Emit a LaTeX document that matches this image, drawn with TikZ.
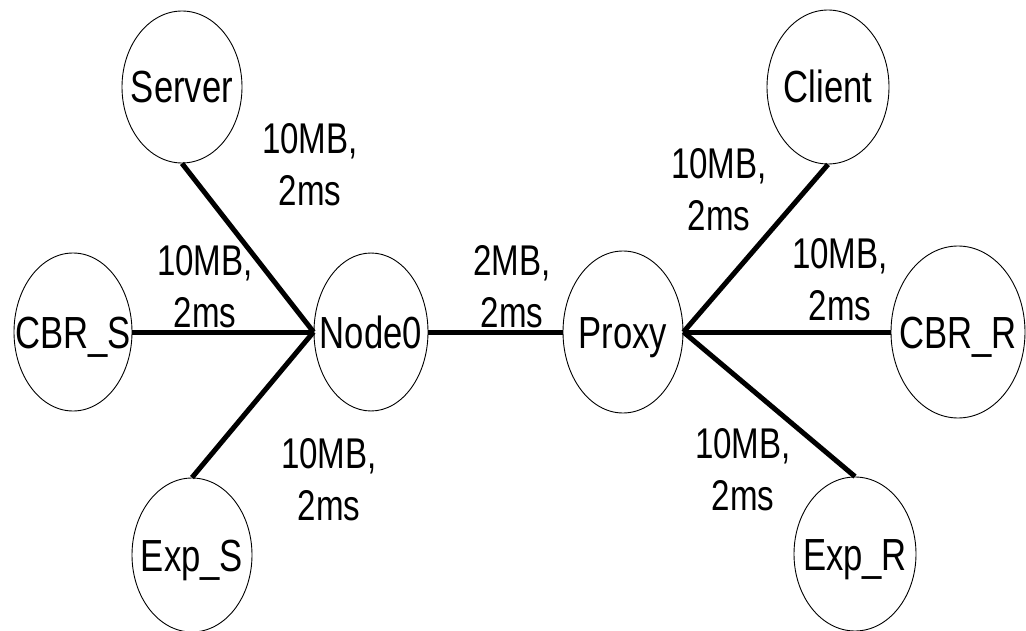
\documentclass[tikz,border=0pt]{standalone}
\usepackage{fontspec}
\setmainfont{Liberation Sans}
\usetikzlibrary{shapes.geometric}
\newcommand{\cond}[1]{\scalebox{0.77}[1]{#1}}
\newcommand{\twoline}[2]{\cond{\begin{tabular}{@{}c@{}}#1\\#2\end{tabular}}}
\begin{document}
\begin{tikzpicture}[x=1pt,y=-1pt,
  host/.style={ellipse, draw, line width=0.9pt, inner sep=0pt,
    text height=32pt, text depth=0pt, font=\fontsize{45}{54}\selectfont},
  link/.style={line width=5pt},
  lbl/.style={inner sep=0pt, font=\fontsize{43}{52}\selectfont}]
\useasboundingbox (0,0) rectangle (1026,631);
\node[host, minimum width=120pt, minimum height=152pt] (server) at (182,87) {\makebox[0pt]{\cond{Server}}};
\node[host, minimum width=122pt, minimum height=154pt] (client) at (828,87) {\makebox[0pt]{\cond{Client}}};
\node[host, minimum width=118pt, minimum height=158pt] (cbrs) at (73,332) {\makebox[0pt]{\cond{CBR\_S}}};
\node[host, minimum width=114pt, minimum height=158pt] (node0) at (371,332) {\makebox[0pt]{\cond{Node0}}};
\node[host, minimum width=120pt, minimum height=162pt] (proxy) at (623,332) {\makebox[0pt]{\cond{Proxy}}};
\node[host, minimum width=134pt, minimum height=172pt] (cbrr) at (958,332) {\makebox[0pt]{\cond{CBR\_R}}};
\node[host, minimum width=120pt, minimum height=154pt] (exps) at (192,555) {\makebox[0pt]{\cond{Exp\_S}}};
\node[host, minimum width=122pt, minimum height=154pt] (expr) at (855,554) {\makebox[0pt]{\cond{Exp\_R}}};

\draw[link] (server.south) -- (node0.west);
\draw[link] (cbrs.east) -- (node0.west);
\draw[link] (exps.north) -- (node0.west);
\draw[link] (node0.east) -- (proxy.west);
\draw[link] (proxy.east) -- (client.south);
\draw[link] (proxy.east) -- (cbrr.west);
\draw[link] (proxy.east) -- (expr.north);

\node[lbl] (l1) at (310,169) {\twoline{10MB,}{2ms}};
\node[lbl] (l2) at (205,291) {\twoline{10MB,}{2ms}};
\node[lbl] (l3) at (329,484) {\twoline{10MB,}{2ms}};
\node[lbl] (l4) at (512,291) {\twoline{2MB,}{2ms}};
\node[lbl] (l5) at (719,194) {\twoline{10MB,}{2ms}};
\node[lbl] (l6) at (840,284) {\twoline{10MB,}{2ms}};
\node[lbl] (l7) at (743,474) {\twoline{10MB,}{2ms}};
\end{tikzpicture}
\end{document}
